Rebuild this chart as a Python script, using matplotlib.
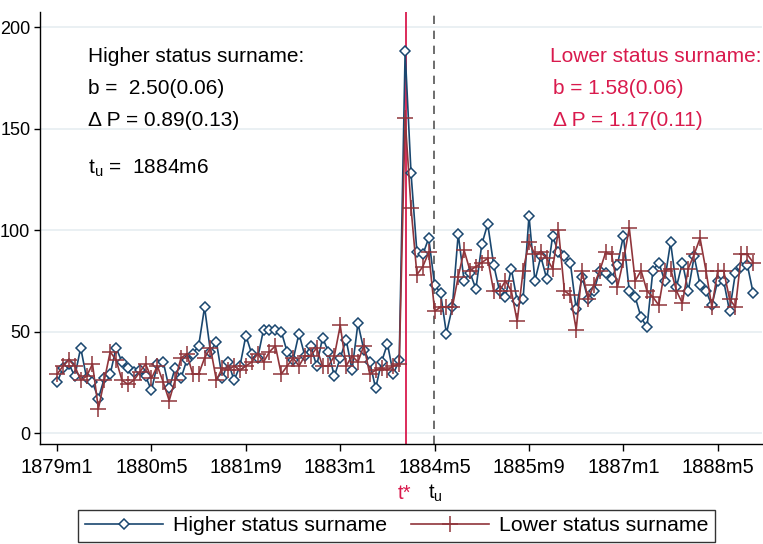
import numpy as np
import matplotlib
matplotlib.use("Agg")
import matplotlib.pyplot as plt
import matplotlib.transforms as mtransforms

plt.rcParams['font.family'] = ['Liberation Sans', 'DejaVu Sans']
plt.rcParams['mathtext.fontset'] = 'custom'
plt.rcParams['mathtext.rm'] = 'Liberation Sans'

# monthly counts, 1879m1 .. 1888m11 (index 0 = 1879m1)
higher = [25, 32, 34, 28, 42, 27, 25, 17, 27, 29,
          42, 35, 32, 30, 31, 28, 21, 34, 35, 22,
          32, 27, 36, 39, 43, 62, 40, 45, 27, 35,
          26, 33, 48, 39, 37, 51, 51, 51, 50, 40,
          36, 49, 38, 43, 33, 47, 40, 28, 37, 46,
          31, 54, 41, 35, 22, 35, 44, 29, 36, 188,
          128, 89, 88, 96, 73, 69, 49, 62, 98, 75,
          79, 71, 93, 103, 83, 70, 67, 81, 65, 66,
          107, 75, 87, 76, 97, 89, 87, 84, 61, 77,
          66, 70, 80, 79, 76, 83, 97, 70, 67, 57,
          52, 80, 84, 75, 94, 72, 84, 70, 87, 73,
          70, 63, 75, 75, 60, 79, 82, 83, 69]
lower = [29, 33, 36, 33, 26, 28, 34, 12, 26, 40,
         36, 26, 24, 26, 30, 34, 27, 33, 25, 16,
         26, 37, 39, 29, 29, 37, 42, 26, 32, 31,
         33, 31, 33, 35, 39, 35, 40, 43, 29, 33,
         37, 33, 38, 38, 42, 33, 33, 38, 53, 33,
         38, 35, 43, 29, 31, 32, 31, 33, 34, 155,
         111, 78, 82, 89, 60, 62, 62, 62, 77, 90,
         80, 82, 84, 86, 70, 70, 75, 70, 55, 80,
         94, 88, 89, 86, 81, 100, 70, 68, 51, 80,
         66, 73, 80, 89, 88, 72, 85, 101, 75, 80,
         70, 67, 63, 80, 81, 70, 64, 81, 88, 96,
         80, 62, 80, 80, 66, 62, 88, 88, 84]
months = np.arange(len(higher))

tick_pos = [0, 16, 32, 48, 64, 80, 96, 112]
tick_labels = ['1879m1', '1880m5', '1881m9', '1883m1',
               '1884m5', '1885m9', '1887m1', '1888m5']
t_star = 59.2
t_u = 63.9

blue = '#1a476f'
maroon = '#90353b'
crimson = '#d91a4d'

fig = plt.figure(figsize=(7.63, 5.44), dpi=100)
ax = fig.add_axes([40 / 763, 1 - 444 / 544, 722 / 763, 432 / 544])

for y in [0, 50, 100, 150, 200]:
    ax.axhline(y, color='#e6eef1', lw=1.2, zorder=0)

ax.axvline(t_star, color=crimson, lw=1.3, zorder=1)
ax.axvline(t_u, color='#555555', lw=1.2, ls=(0, (5, 4)), zorder=1)

hl, = ax.plot(months, higher, color=blue, lw=1.2, marker='D', ms=5.5,
              mfc='white', mec=blue, mew=1.1, zorder=3)
ll, = ax.plot(months, lower, color=maroon, lw=1.2, marker='+', ms=11,
              mew=1.1, zorder=4)

ax.set_xlim(-2.9, 119.5)
ax.set_ylim(-5.4, 207.4)
ax.set_xticks(tick_pos)
ax.set_xticklabels(tick_labels)
ax.set_yticks([0, 50, 100, 150, 200])
ax.tick_params(axis='x', labelsize=14.5, length=5, width=1, pad=5)
ax.tick_params(axis='y', labelsize=13, length=4, width=1, pad=3)
for s in ['top', 'right']:
    ax.spines[s].set_visible(False)
for s in ['left', 'bottom']:
    ax.spines[s].set_linewidth(1.0)

# event markers below the axis
trans = mtransforms.blended_transform_factory(ax.transData, ax.transAxes)
ax.text(t_star - 0.3, -0.115, 't*', color=crimson, fontsize=14.5, ha='center',
        va='center', transform=trans)
ax.text(t_u + 0.3, -0.115, r't$_\mathregular{u}$', color='black', fontsize=14.5,
        ha='center', va='center', transform=trans)

fs = 15
fig.text(88 / 763, 1 - 57 / 544, 'Higher status surname:', fontsize=fs, va='center')
fig.text(88 / 763, 1 - 88 / 544, 'b =  2.50(0.06)', fontsize=fs, va='center')
fig.text(88 / 763, 1 - 120 / 544, '\u0394 P = 0.89(0.13)', fontsize=fs, va='center')
fig.text(88 / 763, 1 - 168 / 544, r't$_\mathregular{u}$ =  1884m6', fontsize=fs, va='center')

fig.text(550 / 763, 1 - 57 / 544, 'Lower status surname:', fontsize=fs, va='center', color=crimson)
fig.text(553 / 763, 1 - 88 / 544, 'b = 1.58(0.06)', fontsize=fs, va='center', color=crimson)
fig.text(553 / 763, 1 - 120 / 544, '\u0394 P = 1.17(0.11)', fontsize=fs, va='center', color=crimson)

leg = fig.legend([hl, ll], ['Higher status surname', 'Lower status surname'],
                 loc='upper center', bbox_to_anchor=(396.5 / 763, 1 - 510 / 544), ncol=2,
                 fontsize=15.3, frameon=True, fancybox=False, edgecolor='black',
                 handlelength=3.7, handletextpad=0.45, columnspacing=1.1,
                 borderpad=0.3, borderaxespad=0)
leg.get_frame().set_linewidth(1.0)

fig.savefig('out.png', dpi=100)
